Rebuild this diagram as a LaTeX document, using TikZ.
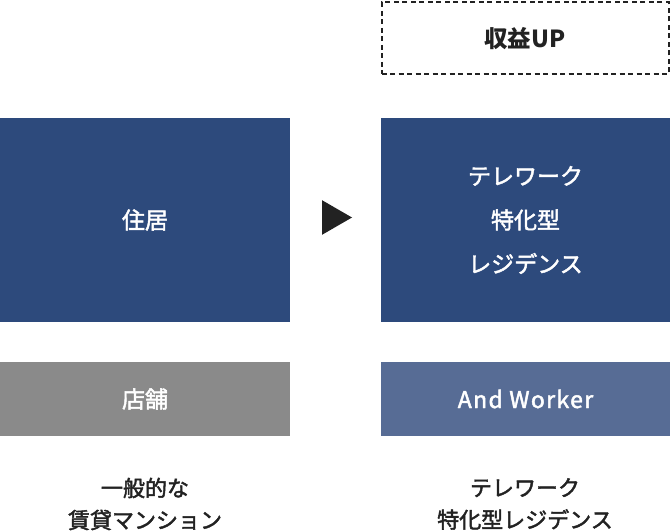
\documentclass[tikz,border=0pt]{standalone}
\usepackage{fontspec}
\newfontfamily\jpfont{Noto Sans CJK JP}
\newfontfamily\jpmed[FakeBold=2]{Noto Sans CJK JP}
\newfontfamily\jplatin[FakeBold=2,LetterSpace=6]{Noto Sans CJK JP}
\usepackage{xcolor}
\usepackage{tikz}
\usetikzlibrary{positioning,shapes.geometric}
\definecolor{navy}{HTML}{2D4A7C}
\definecolor{lightnavy}{HTML}{576C95}
\definecolor{shopgray}{HTML}{8A8A8A}
\definecolor{ink}{HTML}{222222}

\begin{document}
\begin{tikzpicture}[x=1pt,y=-1pt,
  box/.style={minimum width=290pt,inner sep=0pt,text=white,font=\jpmed\fontsize{23}{44}\selectfont,align=center},
  big/.style={box,minimum height=204pt,fill=navy},
  small/.style={box,minimum height=74pt},
  note/.style={text=ink,font=\jpmed\fontsize{22}{32}\selectfont,align=center}]
  \useasboundingbox (0,0) rectangle (670,532);
  \node[draw=ink,dash pattern=on 5pt off 3.5pt,line width=2pt,minimum width=287pt,minimum height=72pt,
    font=\jpfont\bfseries\fontsize{23.5}{25}\selectfont,text=ink](up) at (525,38.5){収益UP};
  \node[big](home) at (145,220){住居};
  \node[big](tele) at (525.5,220){テレワーク\\特化型\\レジデンス};
  \node[small,fill=shopgray](shop) at (145,399){店舗};
  \node[small,fill=lightnavy,font=\jplatin\fontsize{23}{44}\selectfont](aw) at (525.5,399){And Worker};
  \node[isosceles triangle,fill=ink,inner sep=0pt,minimum height=30pt,minimum width=34pt,
    isosceles triangle apex angle=60](arr) at (332,217.5){};
  \node[note](old) at (145,504){一般的な\\賃貸マンション};
  \node[note](new) at (525,504){テレワーク\\特化型レジデンス};
\end{tikzpicture}
\end{document}
